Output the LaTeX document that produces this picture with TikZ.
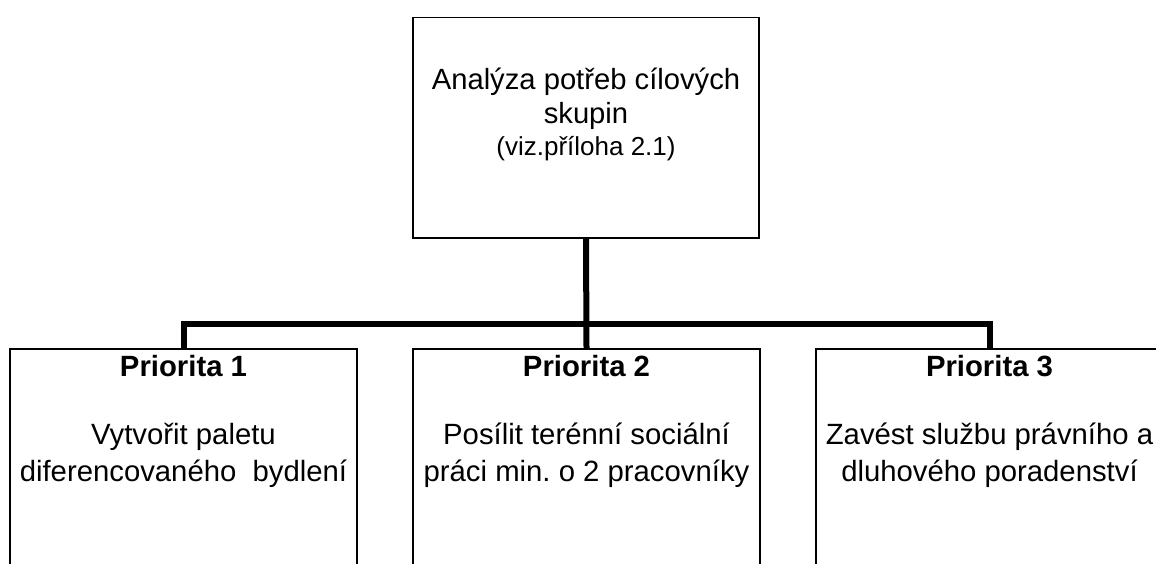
\documentclass[tikz,border=0pt]{standalone}
\usepackage{fontspec}
\setmainfont{Liberation Sans}
\usetikzlibrary{positioning}
\frenchspacing
\tikzset{
  bx/.style={draw=black, line width=1.7pt, anchor=north, inner sep=0pt, align=center},
  anbox/.style={bx, minimum width=346pt, minimum height=220.5pt},
  prio/.style={bx, minimum width=347pt, minimum height=262pt},
  link/.style={line width=6pt, color=black},
}
\newcommand{\topbody}[1]{\parbox[t][220pt][t]{340pt}{\centering\fontsize{29.2}{34.5}\selectfont\vspace*{50pt}#1}}
\newcommand{\priobody}[2]{\parbox[t][262pt][t]{344pt}{\centering\fontsize{29.3}{37}\selectfont\vspace*{6pt}{\bfseries #1}\\[31pt]#2}}

\begin{document}
\begin{tikzpicture}[x=1pt, y=-1pt]
    \useasboundingbox (0,0) rectangle (1156,563);
    \clip (0,0) rectangle (1156,563);
    \node[anbox] (an) at (586,16.5) {\topbody{Analýza potřeb cílových\\skupin\par{\fontsize{26}{31.5}\selectfont (viz.příloha 2.1)\par}}};
    \node[prio] (p1) at (183.5,348) {\priobody{Priorita 1}{Vytvořit paletu\\diferencovaného\ \ bydlení}};
    \node[prio] (p2) at (586.5,348) {\priobody{Priorita 2}{Posílit terénní sociální\\práci min. o 2 pracovníky}};
    \node[prio] (p3) at (989.5,348) {\priobody{Priorita 3}{Zavést službu právního a\\dluhového poradenství}};
    \coordinate (jn) at (586,324);
    \draw[link] (an.south) -- (p2.north);
    \draw[link] (p1.north) |- (jn) -| (p3.north);
\end{tikzpicture}
\end{document}
